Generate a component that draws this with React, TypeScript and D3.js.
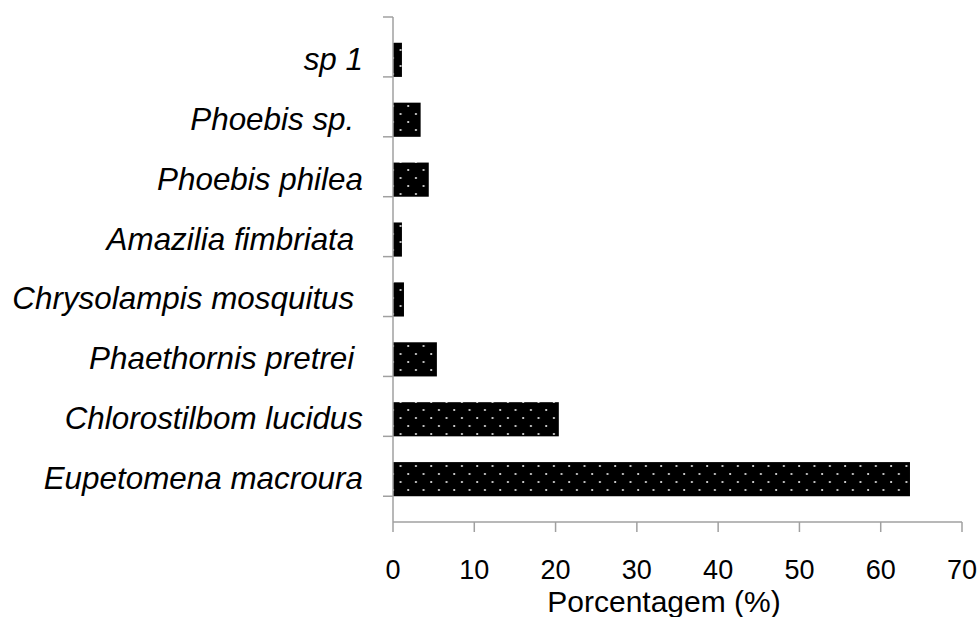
import * as d3 from "d3";

// species, top to bottom as drawn
const species = [
    "sp 1",
    "Phoebis sp. ",
    "Phoebis philea",
    "Amazilia fimbriata ",
    "Chrysolampis mosquitus ",
    "Phaethornis pretrei ",
    "Chlorostilbom lucidus",
    "Eupetomena macroura",
];
const percentages = [1.1, 3.4, 4.4, 1.1, 1.35, 5.4, 20.4, 63.6];
const xTicks = [0, 10, 20, 30, 40, 50, 60, 70];
const xTitle = "Porcentagem (%)";

export default function App() {
    const width = 980;
    const height = 617;
    const marginLeft = 393;
    const marginRight = 18;
    const marginTop = 17;
    const axisY = 522;

    const xScale = d3.scaleLinear()
        .domain([0, 70])
        .range([marginLeft, width - marginRight]);

    const yScale = d3.scaleBand<string>()
        .domain(species)
        .range([marginTop, axisY])
        .padding(0.43);

    const step = yScale.step();
    // category boundaries for the y ticks
    const yTickPos = d3.range(species.length + 1).map(i => marginTop + i * step);

    const axisColor = "#a0a0a0";
    const font = "'Liberation Sans', Arial, sans-serif";

    return (
        <svg width={width} height={height} viewBox={`0 0 ${width} ${height}`}
             style={{position: "absolute", left: 0, top: 0, background: "#fff"}}>
            <defs>
                <pattern id="dots" patternUnits="userSpaceOnUse" width={15.33} height={16}>
                    <rect width={15.33} height={16} fill="#000"/>
                    <circle cx={2} cy={2} r={1.1} fill="#e6e6e6"/>
                    <circle cx={9.67} cy={10} r={1.1} fill="#e6e6e6"/>
                </pattern>
            </defs>

            {/* bars */}
            {species.map((s, i) => (
                <rect key={s}
                      x={xScale(0)}
                      y={yScale(s)}
                      width={xScale(percentages[i]) - xScale(0)}
                      height={yScale.bandwidth()}
                      fill="url(#dots)"/>
            ))}

            {/* y axis */}
            <line x1={marginLeft} x2={marginLeft} y1={marginTop} y2={axisY}
                  stroke={axisColor} strokeWidth={1.5}/>
            {yTickPos.map((y, i) => (
                <line key={i} x1={marginLeft - 10} x2={marginLeft} y1={y} y2={y}
                      stroke={axisColor} strokeWidth={1.5}/>
            ))}
            {species.map(s => (
                <text key={s}
                      x={marginLeft - 30}
                      y={(yScale(s) ?? 0) + yScale.bandwidth() / 2 + 10}
                      textAnchor="end"
                      fontFamily={font}
                      fontStyle="italic"
                      fontSize={31.4}
                      style={{whiteSpace: "pre"}}
                      fill="#000">{s}</text>
            ))}

            {/* x axis */}
            <line x1={xScale(0)} x2={xScale(70)} y1={axisY} y2={axisY}
                  stroke={axisColor} strokeWidth={1.5}/>
            {xTicks.map(t => (
                <g key={t}>
                    <line x1={xScale(t)} x2={xScale(t)} y1={axisY} y2={axisY + 10}
                          stroke={axisColor} strokeWidth={1.5}/>
                    <text x={xScale(t)} y={579} textAnchor="middle"
                          fontFamily={font} fontSize={27} fill="#000">{t}</text>
                </g>
            ))}
            <text x={664} y={612} textAnchor="middle"
                  fontFamily={font} fontSize={30} fill="#000">{xTitle}</text>
        </svg>
    );
}
